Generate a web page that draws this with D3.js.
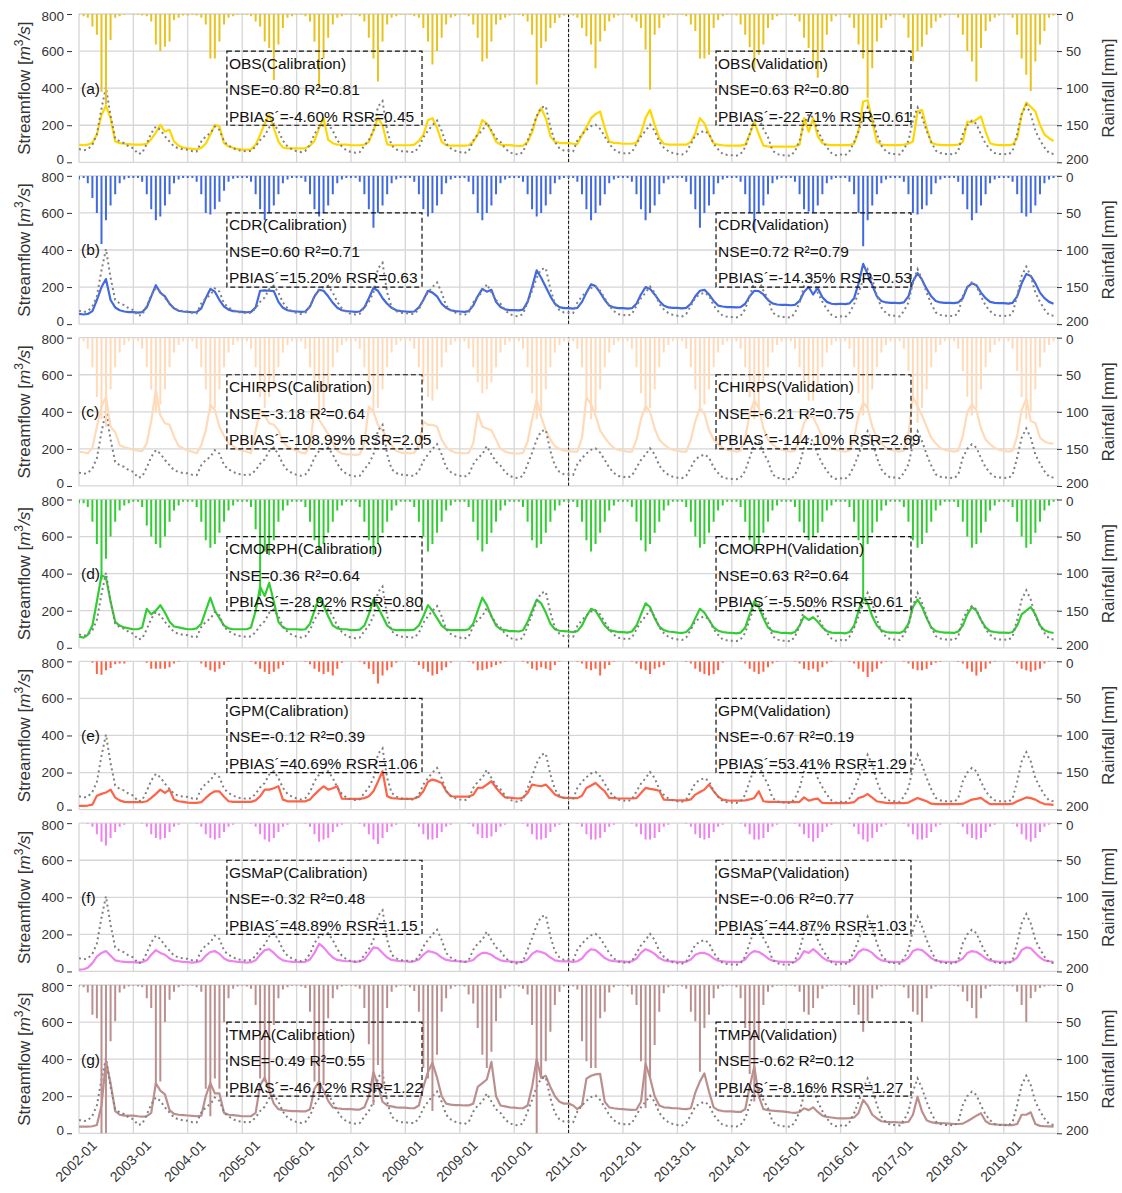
<!DOCTYPE html>
<html>
<head>
<meta charset="utf-8">
<script src="https://cdn.jsdelivr.net/npm/d3@7"></script>
<style>
body{margin:0;background:#fff;}
text{font-family:"Liberation Sans",Arial,sans-serif;}
</style>
</head>
<body>
<svg id="chart" width="1122" height="1193"></svg>
<script>
// monthly series, 2002-01 .. 2019-12 (one row per year)
var obsFlow = [
72,65,70,95,150,290,405,250,130,112,103,85,
76,45,50,100,157,193,175,140,112,85,75,70,
68,60,58,112,140,157,193,175,112,90,76,65,
62,58,62,85,120,144,189,207,170,117,85,70,
60,55,62,95,153,189,200,207,170,120,85,65,
55,52,55,90,120,170,300,330,170,90,70,60,
60,55,55,80,135,170,200,225,170,100,75,62,
55,50,60,117,150,171,215,171,130,110,75,54,
45,42,55,117,180,250,296,302,189,110,75,63,
63,60,117,150,175,195,203,180,140,99,70,54,
50,45,55,99,140,170,203,170,110,80,60,50,
45,42,55,99,144,160,170,153,100,70,45,40,
38,36,45,81,153,225,240,180,135,63,45,38,
38,35,60,117,207,260,242,170,120,81,50,38,
42,38,60,108,170,240,296,242,153,90,60,45,
45,42,70,117,225,296,242,170,110,63,50,45,
45,42,60,153,200,225,207,150,100,70,50,45,
45,42,60,153,260,310,260,170,120,80,50,45];

var obsSim = [
95,92,95,105,150,255,305,238,112,103,100,98,
95,95,95,100,125,160,202,166,175,112,90,80,
75,72,70,78,100,148,202,193,103,85,78,72,
68,68,70,95,148,210,256,185,112,80,75,75,
75,75,75,90,115,185,238,121,103,95,95,95,
93,92,92,95,110,170,240,200,97,92,92,92,
92,92,95,115,148,228,238,185,110,92,90,90,
90,90,92,110,150,228,210,166,110,95,93,93,
90,88,90,110,160,247,292,238,140,110,105,103,
103,100,98,148,190,238,260,274,184,112,105,103,
100,100,100,105,157,240,283,202,130,100,95,95,
95,95,95,110,157,238,210,150,103,95,92,90,
90,90,90,95,150,220,150,90,85,85,85,85,
85,85,85,95,238,166,238,140,103,95,93,93,
93,93,93,100,170,328,335,220,110,95,93,93,
93,93,95,100,112,274,283,184,105,97,94,93,
93,93,95,110,220,215,230,247,166,103,95,93,
93,93,95,130,256,322,300,274,202,150,130,115];

var obsRain = [
1,3,5,17,28,105,122,35,5,3,1,0,
1,1,2,3,10,41,50,44,37,8,5,2,
2,1,2,5,14,60,60,37,14,5,3,1,
1,1,3,10,17,37,46,89,41,19,5,3,
1,1,3,10,37,100,60,32,14,5,3,1,
1,1,3,10,32,60,91,37,14,5,3,1,
1,1,3,5,19,37,68,50,32,14,5,3,
1,1,3,14,32,64,60,37,14,8,5,2,
1,1,3,10,28,95,46,37,19,12,5,2,
1,2,5,19,30,41,73,37,23,10,5,2,
1,1,5,10,19,48,102,28,19,5,2,1,
1,1,3,14,23,60,60,55,19,8,3,1,
1,2,14,28,45,75,55,41,19,8,3,1,
1,1,3,10,32,46,64,86,50,28,10,3,
1,1,5,19,41,60,113,73,37,19,8,3,
1,1,5,32,64,50,44,28,19,10,5,2,
1,1,5,28,50,64,91,46,23,10,5,2,
1,1,5,28,60,82,104,64,41,23,5,2];

var cdrSim = [
55,52,55,70,130,200,243,130,90,75,68,65,
65,62,65,90,150,210,170,150,110,85,72,68,
66,64,65,85,140,190,175,130,95,78,70,68,
66,64,66,90,180,182,180,178,120,88,75,70,
68,66,68,95,150,185,180,150,115,88,75,70,
68,66,68,90,140,195,180,140,110,88,75,70,
68,66,68,90,130,180,170,150,110,88,75,70,
68,66,70,100,150,190,175,185,120,92,80,76,
76,74,78,120,200,290,250,200,150,110,92,86,
86,84,88,120,170,215,205,170,130,100,90,86,
86,84,86,110,160,200,190,160,125,100,90,88,
88,85,88,110,150,180,185,160,125,100,95,92,
92,90,92,110,150,180,178,160,130,112,106,104,
104,102,104,125,175,200,160,195,145,120,110,108,
110,108,112,140,220,325,270,210,150,125,117,115,
115,113,117,150,230,275,240,190,150,125,117,115,
115,113,117,140,200,220,210,170,140,120,115,113,
113,111,115,150,220,270,260,220,170,140,120,110];

var cdrRain = [
5,3,10,30,50,92,60,40,25,10,5,3,
3,3,8,25,45,60,55,40,25,10,5,3,
3,3,8,25,50,52,45,35,20,8,4,3,
3,3,8,25,45,60,50,40,25,10,5,3,
3,3,8,25,45,55,50,40,25,10,5,3,
3,3,8,25,45,70,50,40,25,10,5,3,
3,3,8,25,45,55,50,40,25,10,5,3,
3,3,8,25,50,60,50,40,25,10,5,3,
3,3,8,25,45,55,50,40,25,10,5,3,
3,3,8,25,45,60,50,40,25,10,5,3,
3,3,8,25,45,60,50,40,25,10,5,3,
3,3,8,25,45,70,50,40,25,10,5,3,
3,3,8,25,50,73,50,40,25,10,5,3,
3,3,8,25,45,48,50,40,25,10,5,3,
3,3,8,25,50,95,60,40,25,10,5,3,
3,3,8,25,50,52,45,40,25,10,5,3,
3,3,8,25,45,60,50,40,25,10,5,3,
3,3,8,25,50,55,50,40,25,10,5,3];

var chirpsSim = [
185,182,176,205,320,430,480,320,290,221,209,203,
195,190,188,230,350,518,380,338,330,266,215,203,
190,185,176,220,300,437,410,320,270,230,215,198,
190,185,176,300,410,380,338,330,300,240,212,200,
190,180,176,220,410,356,320,280,230,190,175,170,
170,168,170,230,428,400,330,300,260,220,190,180,
178,175,178,220,347,330,330,320,250,210,190,180,
178,175,178,230,392,320,310,300,250,200,185,178,
176,175,178,240,360,464,374,300,250,215,200,190,
190,185,185,260,480,440,380,300,260,230,205,195,
190,185,185,250,360,430,400,310,250,225,205,195,
190,185,185,250,350,420,390,300,250,225,205,195,
190,185,190,260,390,460,420,310,250,225,205,195,
190,185,190,250,340,380,370,320,260,230,205,195,
190,185,190,260,380,450,420,320,260,230,205,195,
190,185,190,280,480,430,380,320,260,230,205,195,
190,185,190,270,400,440,410,310,250,225,205,195,
190,185,190,270,410,470,350,340,260,240,230,230];

var chirpsRain = [
5,5,15,40,80,110,120,70,40,20,10,5,
5,5,15,40,70,100,90,70,40,20,10,5,
5,5,15,40,70,100,95,70,40,20,10,5,
5,5,15,40,80,95,80,70,40,20,10,5,
5,5,15,40,75,105,95,70,40,20,10,5,
5,5,15,40,70,100,95,70,40,20,10,5,
5,5,15,40,60,80,85,70,40,20,10,5,
5,5,15,40,60,75,70,60,40,20,10,5,
5,5,15,40,75,110,100,70,40,20,10,5,
5,5,15,40,80,110,100,70,40,20,10,5,
5,5,15,40,75,100,95,70,40,20,10,5,
5,5,15,40,70,100,90,70,40,20,10,5,
5,5,15,40,80,110,95,70,40,20,10,5,
5,5,15,40,65,85,85,70,40,20,10,5,
5,5,15,40,75,105,95,70,40,20,10,5,
5,5,15,45,85,115,95,70,40,20,10,5,
5,5,15,45,80,105,95,70,40,20,10,5,
5,5,15,45,80,110,100,70,40,20,10,5];

var cmorphSim = [
60,55,70,120,250,390,380,250,140,120,110,105,
100,100,110,210,180,200,230,190,140,115,110,105,
100,100,105,130,200,270,200,160,120,105,100,100,
100,100,110,200,330,280,350,250,140,110,100,100,
100,98,100,130,200,270,230,170,120,105,100,100,
95,95,98,120,180,260,220,170,120,100,95,95,
95,95,98,120,170,230,200,160,120,100,95,95,
95,95,100,130,200,270,230,170,120,100,95,90,
90,88,95,140,200,260,240,190,130,100,92,90,
88,85,90,120,170,210,200,160,120,95,90,85,
85,82,88,120,180,240,220,160,115,95,88,85,
82,80,85,110,160,210,190,150,110,92,85,82,
80,78,82,110,180,250,220,160,110,90,85,80,
80,78,85,120,170,150,165,140,110,90,82,80,
80,78,85,120,200,270,240,170,120,95,85,82,
82,80,90,130,220,260,220,160,110,90,85,82,
82,80,88,120,180,220,200,150,110,90,85,82,
82,80,85,120,180,200,220,180,120,95,85,80];

var cmorphRain = [
5,5,10,30,60,108,80,50,30,15,8,5,
3,3,10,35,50,60,65,50,30,15,8,3,
3,3,10,30,55,65,60,45,30,15,8,3,
3,3,10,40,130,70,75,55,30,15,8,3,
3,3,10,30,55,70,60,45,30,15,8,3,
3,3,10,30,55,75,60,45,30,15,8,3,
3,3,10,30,50,70,60,45,30,15,8,3,
3,3,10,30,55,70,60,45,30,15,8,3,
3,3,10,30,55,65,60,45,30,15,8,3,
3,3,10,30,55,70,60,45,30,15,8,3,
3,3,10,30,55,70,60,45,30,15,8,3,
3,3,10,30,50,65,60,45,30,15,8,3,
3,3,10,30,55,70,60,45,30,15,8,3,
3,3,10,30,45,55,50,45,30,15,8,3,
3,3,10,30,55,132,60,45,30,15,8,3,
3,3,10,30,55,65,60,45,30,15,8,3,
3,3,10,30,50,65,60,45,30,15,8,3,
3,3,10,30,50,65,60,45,30,15,8,3];

var gpmSim = [
20,20,22,27,75,85,92,108,65,50,42,40,
40,40,40,45,63,85,108,90,108,54,45,42,
38,36,36,40,63,85,99,98,70,45,42,42,
42,42,42,50,72,108,108,115,126,54,45,45,
45,45,45,55,81,105,126,108,115,126,59,58,
58,58,58,62,72,99,150,207,72,62,60,58,
58,58,60,70,99,150,162,155,144,100,72,70,
70,70,70,80,117,118,135,153,118,90,66,65,
62,60,65,90,135,130,126,135,110,81,70,63,
63,62,62,75,117,130,144,120,99,63,62,60,
60,60,60,62,90,117,112,108,102,54,52,52,
50,50,50,55,81,95,108,135,100,70,54,50,
48,48,48,50,55,63,99,45,42,42,42,40,
40,40,40,42,66,48,55,59,36,35,35,35,
35,35,36,40,63,70,84,65,45,40,36,35,
35,35,35,38,50,63,54,45,32,30,30,30,
30,30,30,32,42,54,58,63,45,30,30,30,
30,30,32,45,55,66,62,54,40,30,28,26];

var gpmRain = [
0,0,0,2,17,18,12,9,4,3,3,0,
0,0,0,2,10,10,10,10,8,3,1,0,
0,0,0,3,8,12,14,10,5,1,0,0,
0,0,1,4,10,14,17,14,10,5,1,0,
0,0,1,4,10,14,17,14,19,10,2,0,
0,0,1,4,10,17,30,19,12,8,2,0,
0,0,1,5,10,14,19,17,12,8,2,0,
0,0,1,3,12,12,10,8,5,3,1,0,
0,0,1,3,10,12,8,10,12,5,1,0,
0,0,1,3,10,12,10,19,10,5,1,0,
0,0,1,3,10,12,17,10,8,5,1,0,
0,0,1,3,10,14,17,19,17,12,2,0,
0,0,1,3,10,14,17,14,8,3,1,0,
0,0,1,3,10,12,10,14,8,3,1,0,
0,0,1,3,10,14,21,14,10,3,1,0,
0,0,1,3,10,12,12,10,5,2,1,0,
0,0,1,3,10,14,19,14,10,3,1,0,
0,0,1,3,10,12,14,12,10,3,1,0];

var gsmapSim = [
10,12,20,45,80,100,110,85,60,55,52,50,
50,48,50,60,90,115,100,90,70,58,55,52,
50,48,50,58,85,105,110,95,70,58,55,52,
50,48,50,60,90,115,120,100,75,60,55,52,
52,50,52,65,100,150,130,100,75,62,58,55,
55,52,55,65,95,130,125,100,75,62,58,55,
55,52,55,65,90,110,105,95,75,62,58,55,
55,52,55,62,85,100,100,90,72,60,56,54,
52,50,52,65,95,110,105,95,75,60,56,54,
54,52,55,70,100,120,115,95,72,60,56,54,
54,52,55,70,100,120,110,95,72,60,56,54,
52,50,52,65,90,100,100,90,70,58,55,52,
52,50,52,65,95,110,105,90,70,58,55,52,
52,50,52,70,110,100,120,100,75,60,55,52,
52,50,52,70,105,120,115,100,75,60,55,52,
52,50,55,75,110,120,115,95,72,58,55,52,
52,50,55,70,100,110,105,90,70,58,55,52,
52,50,55,75,115,130,125,100,75,60,55,52];

var gsmapRain = [
0,0,1,5,15,25,30,20,12,5,2,0,
0,0,1,5,15,20,22,20,12,5,2,0,
0,0,1,5,15,20,22,20,12,5,2,0,
0,0,1,5,15,22,25,20,12,5,2,0,
0,0,1,5,15,25,22,20,12,5,2,0,
0,0,1,5,15,22,28,20,12,5,2,0,
0,0,1,5,15,22,22,20,12,5,2,0,
0,0,1,5,15,20,20,18,12,5,2,0,
0,0,1,5,15,22,22,20,12,5,2,0,
0,0,1,5,15,22,22,20,12,5,2,0,
0,0,1,5,15,22,22,20,12,5,2,0,
0,0,1,5,15,20,22,20,12,5,2,0,
0,0,1,5,15,22,22,20,12,5,2,0,
0,0,1,5,15,20,25,20,12,5,2,0,
0,0,1,5,15,22,25,20,12,5,2,0,
0,0,1,5,15,22,22,20,12,5,2,0,
0,0,1,5,15,20,22,20,12,5,2,0,
0,0,1,5,15,22,25,20,12,5,2,0];

var tmpaSim = [
36,36,36,38,45,150,390,270,120,100,95,95,
95,92,90,92,110,270,230,210,125,105,100,98,
96,94,92,95,200,270,215,215,110,100,98,95,
92,92,92,110,260,300,230,160,130,125,122,120,
120,118,118,130,240,280,230,175,140,135,132,130,
130,128,128,140,200,330,260,170,150,145,140,138,
138,135,135,150,250,330,380,300,200,160,155,152,
152,150,150,160,250,270,290,385,200,150,145,140,
138,135,135,150,250,400,300,310,250,200,170,160,
160,150,130,150,295,310,318,320,170,140,135,132,
130,128,126,128,170,375,300,200,150,140,138,135,
135,132,130,135,220,280,323,224,140,125,120,118,
118,115,115,130,250,360,200,130,125,122,120,118,
115,112,110,115,135,125,140,115,95,88,85,82,
80,80,82,85,110,180,150,100,80,65,62,60,
60,58,58,62,100,197,117,70,60,55,55,54,
52,50,50,52,65,80,95,108,65,50,48,46,
45,44,44,50,100,100,113,50,40,38,37,36];

var tmpaRain = [
2,3,10,40,45,230,200,76,49,10,5,2,
1,2,3,18,31,135,130,50,20,9,3,1,
1,1,3,9,140,177,126,140,50,18,5,2,
1,2,5,27,126,130,144,54,18,6,3,1,
1,2,4,36,130,148,135,45,18,6,2,1,
1,2,5,31,80,162,108,140,31,9,3,1,
1,3,8,36,112,126,170,94,36,18,5,2,
1,2,13,25,58,94,112,90,49,18,5,2,
1,2,5,13,54,210,126,103,63,27,9,2,
1,2,6,76,103,112,112,45,36,10,3,1,
1,2,13,27,103,166,126,81,36,11,3,1,
1,2,5,36,49,117,58,40,18,5,2,1,
1,3,18,58,120,157,72,27,9,3,1,1,
1,1,2,9,36,40,31,18,5,2,1,1,
1,1,3,27,40,63,49,18,6,2,1,1,
1,1,3,18,36,40,50,18,5,2,1,1,
1,1,2,9,22,31,45,18,5,2,1,1,
1,1,2,9,27,50,18,9,4,2,1,1];

var productNames = ["OBS", "CDR", "CHIRPS", "CMORPH", "GPM", "GSMaP", "TMPA"];
var panelLetters = ["(a)", "(b)", "(c)", "(d)", "(e)", "(f)", "(g)"];
var lineColors = ["#FFD700", "#4169E1", "#FFDAB9", "#32CD32", "#FF6347", "#EE82EE", "#BC8F8F"];
var barColors  = ["#E8C21F", "#4169E1", "#FFDAB9", "#32CD32", "#FF6347", "#EE82EE", "#BC8F8F"];
var simSeries  = [obsSim, cdrSim, chirpsSim, cmorphSim, gpmSim, gsmapSim, tmpaSim];
var rainSeries = [obsRain, cdrRain, chirpsRain, cmorphRain, gpmRain, gsmapRain, tmpaRain];
var calStats = [
  ["NSE=0.80 R\u00b2=0.81", "PBIAS\u00b4=-4.60% RSR=0.45"],
  ["NSE=0.60 R\u00b2=0.71", "PBIAS\u00b4=15.20% RSR=0.63"],
  ["NSE=-3.18 R\u00b2=0.64", "PBIAS\u00b4=-108.99% RSR=2.05"],
  ["NSE=0.36 R\u00b2=0.64", "PBIAS\u00b4=-28.92% RSR=0.80"],
  ["NSE=-0.12 R\u00b2=0.39", "PBIAS\u00b4=40.69% RSR=1.06"],
  ["NSE=-0.32 R\u00b2=0.48", "PBIAS\u00b4=48.89% RSR=1.15"],
  ["NSE=-0.49 R\u00b2=0.55", "PBIAS\u00b4=-46.12% RSR=1.22"]];
var valStats = [
  ["NSE=0.63 R\u00b2=0.80", "PBIAS\u00b4=-22.71% RSR=0.61"],
  ["NSE=0.72 R\u00b2=0.79", "PBIAS\u00b4=-14.35% RSR=0.53"],
  ["NSE=-6.21 R\u00b2=0.75", "PBIAS\u00b4=-144.10% RSR=2.69"],
  ["NSE=0.63 R\u00b2=0.64", "PBIAS\u00b4=-5.50% RSR=0.61"],
  ["NSE=-0.67 R\u00b2=0.19", "PBIAS\u00b4=53.41% RSR=1.29"],
  ["NSE=-0.06 R\u00b2=0.77", "PBIAS\u00b4=44.87% RSR=1.03"],
  ["NSE=-0.62 R\u00b2=0.12", "PBIAS\u00b4=-8.16% RSR=1.27"]];
var flowTicks = [0, 200, 400, 600, 800];
var rainTicks = [0, 50, 100, 150, 200];
var splitDate = new Date(2011, 0, 1);
var calBox = [new Date(2004, 8, 20), new Date(2008, 3, 22)];
var valBox = [new Date(2013, 8, 17), new Date(2017, 3, 18)];
var yearTicks = d3.range(2002, 2020).map(function(y){ return new Date(y, 0, 1); });

var months = d3.range(216).map(function(i){ return new Date(2002, i, 1); });

var svg = d3.select("#chart");
var left = 79, right = 1058, panelTop = 14, panelH = 148.3, panelStep = 161.83;

var x = d3.scaleTime()
  .domain([new Date(2002, 0, 1), new Date(2019, 11, 31)])
  .range([left, right]);

productNames.forEach(function(name, i){
  var top = panelTop + i * panelStep;
  var y = d3.scaleLinear().domain([0, 800]).range([top + panelH, top]);
  var yr = d3.scaleLinear().domain([0, 200]).range([top, top + panelH]);
  var g = svg.append("g").attr("class", "panel");

  g.append("clipPath").attr("id", "clip" + i)
    .append("rect").attr("x", left).attr("y", top).attr("width", right - left).attr("height", panelH);

  // grid
  g.selectAll(".vgrid").data(yearTicks).enter().append("line")
    .attr("x1", function(d){ return x(d); }).attr("x2", function(d){ return x(d); })
    .attr("y1", top).attr("y2", top + panelH)
    .style("stroke", "#d6d6d6").style("stroke-width", 1.3);
  g.selectAll(".hgrid").data(flowTicks).enter().append("line")
    .attr("x1", left).attr("x2", right)
    .attr("y1", function(d){ return y(d); }).attr("y2", function(d){ return y(d); })
    .style("stroke", "#d6d6d6").style("stroke-width", 1.3);
  g.append("line").attr("x1", right).attr("x2", right).attr("y1", top).attr("y2", top + panelH)
    .style("stroke", "#d6d6d6").style("stroke-width", 1.3);

  // calibration / validation split
  g.append("line").attr("x1", x(splitDate)).attr("x2", x(splitDate))
    .attr("y1", top).attr("y2", top + panelH)
    .style("stroke", "#111").style("stroke-width", 1).style("stroke-dasharray", "3,2");

  var plot = g.append("g").attr("clip-path", "url(#clip" + i + ")");

  var line = d3.line()
    .x(function(d, j){ return x(months[j]); })
    .y(function(d){ return y(d); });

  plot.append("path").datum(simSeries[i])
    .attr("d", line)
    .style("fill", "none").style("stroke", lineColors[i]).style("stroke-width", 2.2)
    .style("stroke-linejoin", "round");

  plot.append("path").datum(obsFlow)
    .attr("d", line)
    .style("fill", "none").style("stroke", "#808080").style("stroke-width", 2)
    .style("stroke-dasharray", "2,3.2");

  plot.selectAll(".bar").data(rainSeries[i]).enter().append("line")
    .attr("x1", function(d, j){ return x(months[j]); })
    .attr("x2", function(d, j){ return x(months[j]); })
    .attr("y1", yr(0))
    .attr("y2", function(d){ return yr(d); })
    .style("stroke", barColors[i]).style("stroke-width", 2);

  // axes
  var axL = g.append("g").attr("transform", "translate(72,0)")
    .call(d3.axisLeft(y).tickValues(flowTicks).tickSize(5).tickPadding(3));
  var axR = g.append("g").attr("transform", "translate(1057,0)")
    .call(d3.axisRight(yr).tickValues(rainTicks).tickSize(5).tickPadding(4));
  [axL, axR].forEach(function(ax){
    ax.select(".domain").remove();
    ax.selectAll("line").style("stroke", "#333");
    ax.selectAll("text").style("font-size", "13.5px").style("fill", "#333")
      .style("font-family", "Liberation Sans, Arial, sans-serif");
  });
  // keep end labels of stacked panels apart
  axL.selectAll(".tick text").attr("dy", function(d){ return d === 0 ? "0.1em" : d === 800 ? "0.45em" : "0.32em"; });
  axR.selectAll(".tick text").attr("dy", function(d){ return d === 200 ? "0.1em" : d === 0 ? "0.45em" : "0.32em"; });

  // axis titles
  var yt = g.append("text")
    .attr("transform", "translate(30," + (top + panelH / 2) + ") rotate(-90)")
    .attr("text-anchor", "middle").style("font-size", "17px").style("fill", "#333");
  yt.append("tspan").text("Streamflow [");
  yt.append("tspan").style("font-style", "italic").text("m");
  yt.append("tspan").attr("dy", -7).style("font-size", "12px").text("3");
  yt.append("tspan").attr("dy", 7).style("font-style", "italic").text("/s");
  yt.append("tspan").text("]");

  g.append("text")
    .attr("transform", "translate(1114," + (top + panelH / 2) + ") rotate(-90)")
    .attr("text-anchor", "middle").style("font-size", "17px").style("fill", "#333")
    .text("Rainfall [mm]");

  g.append("text").attr("x", left + 2).attr("y", y(400))
    .attr("dominant-baseline", "central").style("font-size", "15.5px").style("fill", "#111")
    .text(panelLetters[i]);

  // statistics boxes
  [[calBox, "(Calibration)", calStats[i]], [valBox, "(Validation)", valStats[i]]].forEach(function(b){
    var bx0 = x(b[0][0]), bx1 = x(b[0][1]);
    g.append("rect").attr("x", bx0).attr("y", y(600))
      .attr("width", bx1 - bx0).attr("height", y(200) - y(600))
      .style("fill", "none").style("stroke", "#111").style("stroke-width", 1.2)
      .style("stroke-dasharray", "5,3");
    var lines = [name + b[1], b[2][0], b[2][1]];
    g.selectAll(".st").data(lines).enter().append("text")
      .attr("x", bx0 + 2)
      .attr("y", function(d, k){ return y(600) + 12 + k * 26.5; })
      .attr("dominant-baseline", "central")
      .style("font-size", "15.5px").style("fill", "#111")
      .text(function(d){ return d; });
  });
});

// x tick labels under the last panel
svg.append("g").selectAll("text").data(yearTicks).enter().append("text")
  .attr("transform", function(d){ return "translate(" + (x(d) - 3) + ",1161) rotate(-45)"; })
  .attr("text-anchor", "middle").attr("dominant-baseline", "central")
  .style("font-size", "14px").style("fill", "#333")
  .text(d3.timeFormat("%Y-%m"));
</script>
</body>
</html>
